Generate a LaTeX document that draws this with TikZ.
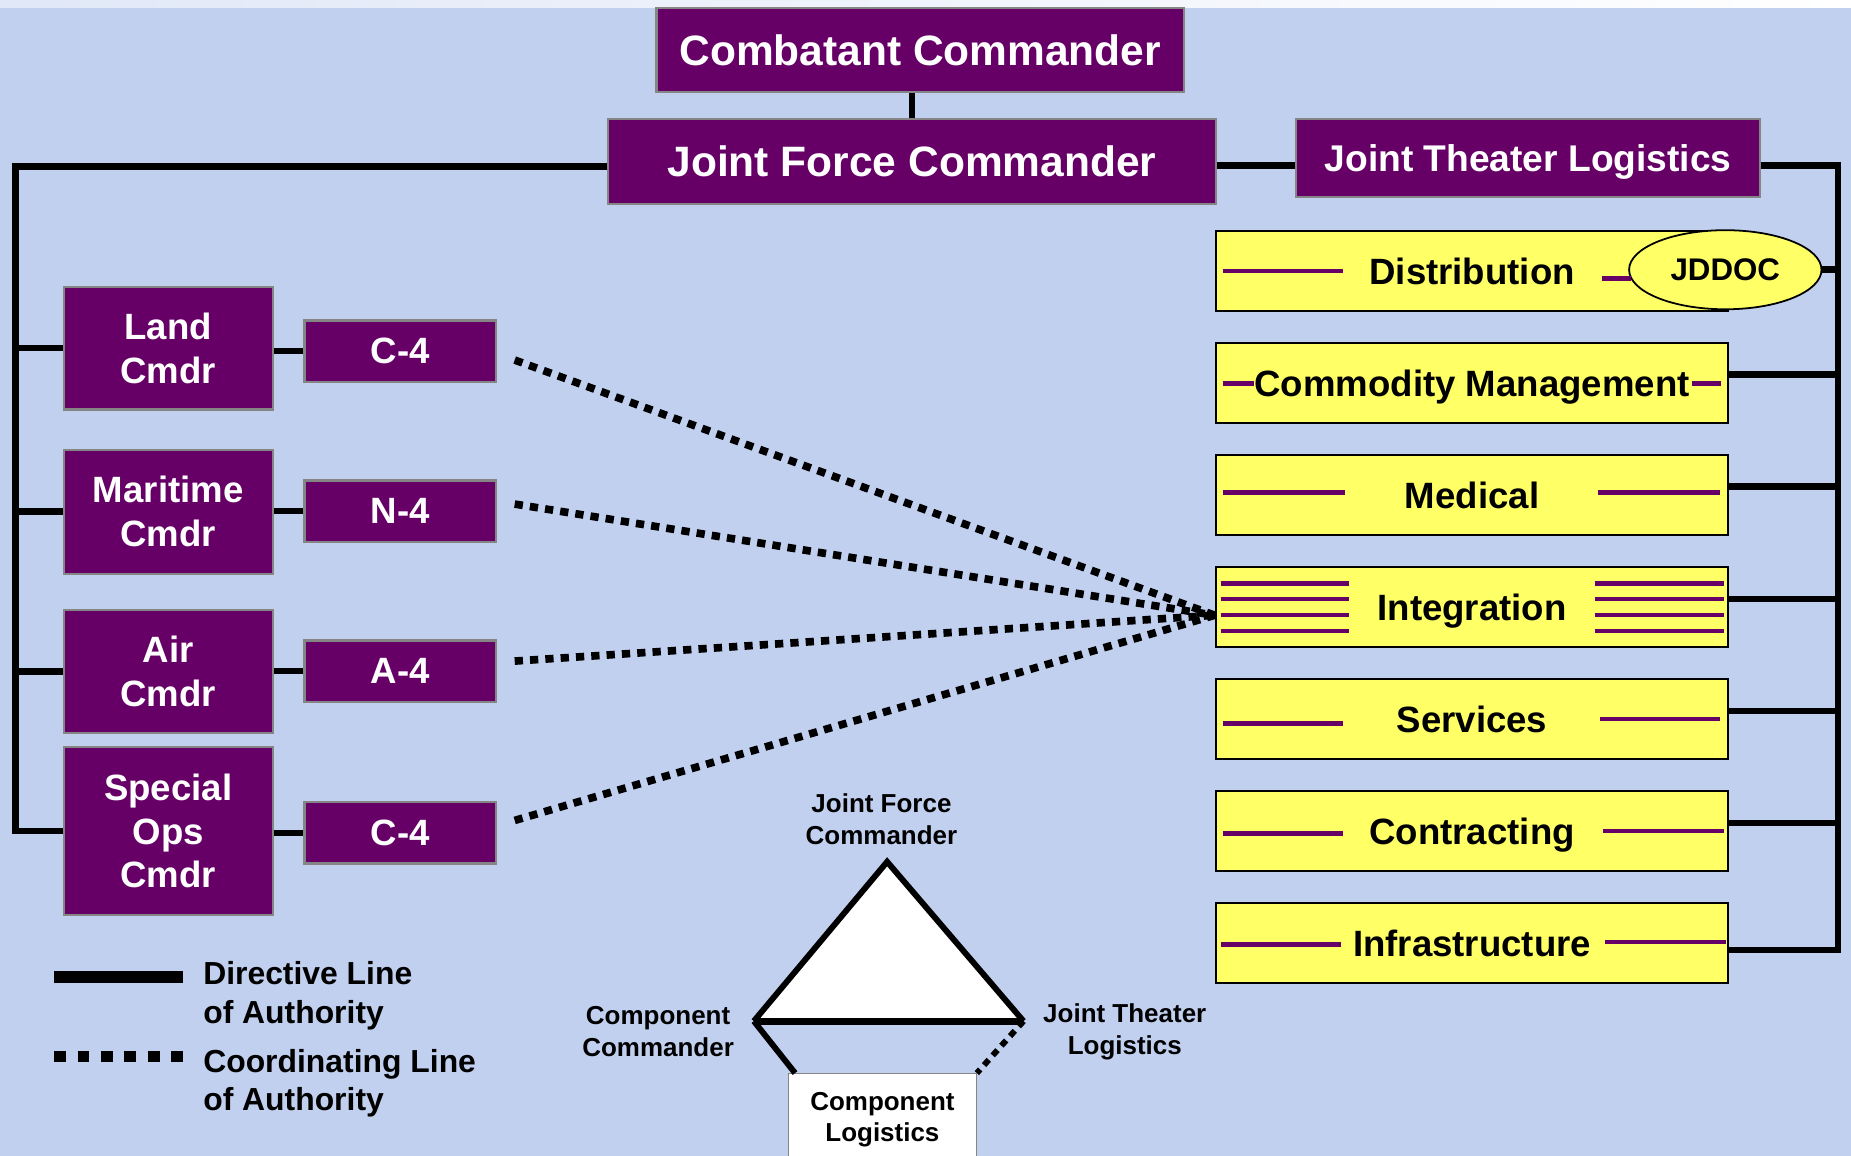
\documentclass[tikz,border=0pt]{standalone}
\usepackage{fontspec}
\setmainfont{Liberation Sans}
\usetikzlibrary{shapes.geometric}
\definecolor{cmdpurple}{HTML}{660066}
\definecolor{funcyellow}{HTML}{FFFF66}
\definecolor{bgblue}{HTML}{C2D0EF}
\definecolor{boxgray}{HTML}{858585}
\tikzset{
  cmd/.style={draw=boxgray, line width=2pt, fill=cmdpurple, text=white, align=center, inner sep=0pt, font=\bfseries\fontsize{31}{37}\selectfont},
  cmdwide/.style={cmd, font=\bfseries\fontsize{36}{40}\selectfont},
  comp/.style={cmd, minimum width=177pt},
  staff/.style={cmd, minimum width=162pt, minimum height=52pt},
  func/.style={draw=black, line width=2pt, fill=funcyellow, inner sep=0pt, minimum width=434pt, minimum height=68pt, text height=22.5pt, text depth=0pt, font=\bfseries\fontsize{31}{37}\selectfont},
  bar/.style={cmdpurple, line width=4pt},
  directive/.style={line width=5.5pt},
  coordinating/.style={line width=6.5pt, dash pattern=on 7pt off 6pt},
  tag/.style={align=center, inner sep=0pt, font=\bfseries\fontsize{22}{27}\selectfont},
  legtext/.style={align=left, anchor=west, inner sep=0pt, font=\bfseries\fontsize{27}{32.5}\selectfont},
}
\begin{document}
\begin{tikzpicture}[x=1pt, y=-1pt]
\useasboundingbox (0,0) rectangle (1568,979);
\clip (0,0) rectangle (1568,979);
\fill[bgblue] (0,0) rectangle (1568,979);
\shade[left color=bgblue!50!white, right color=white] (0,0) rectangle (1568,6);

% command chain
\node[cmdwide, minimum width=447pt, minimum height=71pt] (cc) at (779.5,42.5) {Combatant Commander};
\node[cmdwide, minimum width=515pt, minimum height=72pt] (jfc) at (772.5,137) {Joint Force Commander};
\node[cmd, minimum width=393pt, minimum height=66pt, text height=22.5pt, text depth=0pt, font=\bfseries\fontsize{31.5}{37}\selectfont] (jtl) at (1294.5,134) {Joint Theater Logistics};

% components and their staffs
\node[comp, minimum height=104pt] (land) at (142.5,295) {Land\\Cmdr};
\node[comp, minimum height=105pt] (mar) at (142.5,433.5) {Maritime\\Cmdr};
\node[comp, minimum height=104pt] (air) at (142.5,569) {Air\\Cmdr};
\node[comp, minimum height=142pt] (spec) at (142.5,704) {Special\\Ops\\Cmdr};
\node[staff] (c4a) at (339,297.5) {C-4};
\node[staff] (n4) at (339,433) {N-4};
\node[staff] (a4) at (339,568.5) {A-4};
\node[staff] (c4b) at (339,705.5) {C-4};

% logistics functions
\node[func] (dist) at (1247,229.5) {Distribution};
\node[func] (comm) at (1247,324.4) {Commodity Management};
\node[func] (med) at (1247,419.3) {Medical};
\node[func] (integ) at (1247,514.2) {Integration};
\node[func] (serv) at (1247,609.1) {Services};
\node[func] (contr) at (1247,704) {Contracting};
\node[func] (infra) at (1247,798.9) {Infrastructure};
\node[ellipse, draw=black, line width=1.5pt, fill=funcyellow, minimum width=163pt, minimum height=67pt, inner sep=0pt, font=\bfseries\fontsize{26.5}{30}\selectfont] (jddoc) at (1461.5,228.5) {JDDOC};

% purple bars
\draw[bar] (1036,229.5) -- (1138,229.5);
\draw[bar] (1357,236) -- (1382,236);
\draw[bar] (1036,325) -- (1062,325);
\draw[bar] (1433,325) -- (1458,325);
\draw[bar] (1036,417) -- (1139,417);
\draw[bar] (1354,417) -- (1457,417);
\foreach \y in {494,507.5,521,534.5} {
  \draw[bar] (1034,\y) -- (1143,\y);
  \draw[bar] (1351,\y) -- (1460,\y);
}
\draw[bar] (1036,613) -- (1138,613);
\draw[bar] (1355,609) -- (1457,609);
\draw[bar] (1036,706) -- (1138,706);
\draw[bar] (1358,704) -- (1460,704);
\draw[bar] (1034,800) -- (1136,800);
\draw[bar] (1360,798) -- (1462,798);

% directive lines
\coordinate (lbus) at (13,141);
\coordinate (rbus) at (1557,140);
\draw[line width=5pt] (jfc.north) -- (jfc.north |- cc.south);
\draw[directive] ([yshift=-3pt]jfc.east) -- ([yshift=-6pt]jtl.west);
\draw[directive] ([yshift=-4pt]jfc.west) -- (lbus) |- (spec.west);
\foreach \c in {land,mar,air} \draw[directive] (lbus |- \c.west) -- (\c.west);
\draw[directive] (land.east |- c4a.west) -- (c4a.west);
\draw[directive] (mar.east |- n4.west) -- (n4.west);
\draw[directive] (air.east |- a4.west) -- (a4.west);
\draw[directive] (spec.east |- c4b.west) -- (c4b.west);
\draw[directive] ([yshift=-6pt]jtl.east) -- (rbus) |- ([yshift=-6pt]infra.east);
\draw[directive] (jddoc.east) -- (rbus |- jddoc.east);
\foreach \f in {comm,med,integ,serv,contr} {
  \coordinate (\f-out) at ([yshift=7pt]\f.east);
  \draw[directive] (\f-out) -- (rbus |- \f-out);
}

% coordinating lines
\coordinate (integ-in) at ([yshift=-7pt]integ.west);
\coordinate (c4a-out) at (436,305);
\coordinate (n4-out) at (436,427);
\coordinate (a4-out) at (436,560);
\coordinate (c4b-out) at (436,695);
\foreach \s in {c4a,n4,a4,c4b} \draw[coordinating] (\s-out) -- (integ-in);

% triangle
\coordinate (apex) at (751.5,730);
\coordinate (ccpt) at (638.6,865);
\coordinate (jtlpt) at (867,865);
\fill[white] (apex) -- (ccpt) -- (jtlpt) -- cycle;
\draw[line width=5pt] (ccpt) -- (apex) -- (jtlpt);
\draw[line width=6pt] (ccpt) -- (jtlpt);
\node[draw=boxgray, line width=1pt, fill=white, minimum width=159pt, minimum height=78pt, anchor=north, tag] (comlog) at (747.5,909) {Component\\Logistics};
\draw[line width=5pt] (ccpt) -- ([xshift=6pt]comlog.north west);
\draw[line width=5pt, dash pattern=on 6pt off 5pt] (jtlpt) -- (comlog.north east);
\node[tag] (jfctag) at (746.7,694) {Joint Force\\Commander};
\node[tag] (cctag) at (557.5,874) {Component\\Commander};
\node[tag] (jtltag) at (952.8,874) {Joint Theater\\Logistics};

% legend
\draw[line width=10pt] (46,827.5) -- (155,827.5);
\draw[line width=10pt, dash pattern=on 10pt off 9.8pt] (46,895) -- (155,895);
\node[legtext] (dirtext) at (172,843.5) {Directive Line\\of Authority};
\node[legtext] (coortext) at (172,917.5) {Coordinating Line\\of Authority};
\end{tikzpicture}
\end{document}
